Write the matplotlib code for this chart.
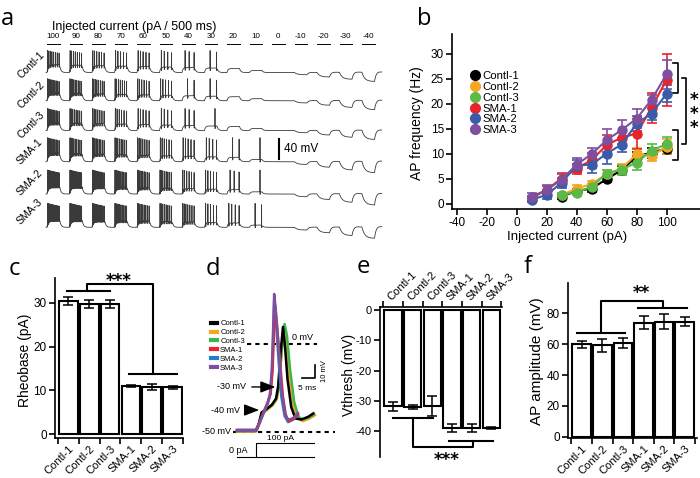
import numpy as np
import matplotlib
matplotlib.use('Agg')
import matplotlib.pyplot as plt
from matplotlib.lines import Line2D

plt.rcParams['font.family'] = ['Liberation Sans', 'DejaVu Sans']
plt.rcParams['axes.unicode_minus'] = False
plt.rcParams['axes.linewidth'] = 1.2

W, H = 700, 478
fig = plt.figure(figsize=(7, 4.78), dpi=100)


def px_axes(l, t, r, b):
    return fig.add_axes([l / W, 1 - b / H, (r - l) / W, (b - t) / H])


def ftext(x, y, s, **kw):
    fig.text(x / W, 1 - y / H, s, **kw)


# ---------------- data ----------------
groups = ['Contl-1', 'Contl-2', 'Contl-3', 'SMA-1', 'SMA-2', 'SMA-3']
colors_b = ['#000000', '#F5A623', '#5BB947', '#E8232A', '#3A5BA9', '#7E4E9F']
colors_d = ['#000000', '#F5A623', '#3DB54A', '#E8232A', '#2A7CC0', '#7E4E9F']

# panel a: step currents and spike counts per sweep
step_currents = [100, 90, 80, 70, 60, 50, 40, 30, 20, 10, 0, -10, -20, -30, -40]
spikes_contl1 = [8, 7, 6, 5, 5, 4, 3, 2, 0, 0, 0, 0, 0, 0, 0]
spikes_contl2 = [10, 9, 8, 7, 6, 5, 2, 2, 0, 0, 0, 0, 0, 0, 0]
spikes_contl3 = [10, 8, 7, 6, 5, 4, 3, 1, 0, 0, 0, 0, 0, 0, 0]
spikes_sma1 = [10, 9, 9, 8, 7, 6, 5, 4, 2, 1, 0, 0, 0, 0, 0]
spikes_sma2 = [14, 12, 11, 10, 9, 8, 6, 5, 3, 1, 0, 0, 0, 0, 0]
spikes_sma3 = [15, 13, 11, 10, 9, 8, 7, 5, 4, 2, 0, 0, 0, 0, 0]

# panel b: AP frequency vs injected current
inj_sma = [10, 20, 30, 40, 50, 60, 70, 80, 90, 100]
inj_contl = [30, 40, 50, 60, 70, 80, 90, 100]
freq_contl1 = [1.4, 2.5, 3.0, 4.9, 6.7, 9.4, 10.2, 11.0]
err_contl1 = [0.4, 0.5, 0.6, 0.6, 0.8, 1.0, 1.0, 1.0]
freq_contl2 = [1.7, 3.0, 3.9, 5.9, 7.0, 9.9, 9.5, 11.4]
err_contl2 = [0.5, 0.8, 0.7, 0.8, 1.0, 1.3, 1.0, 1.5]
freq_contl3 = [1.8, 2.2, 3.4, 6.0, 6.8, 8.2, 10.6, 11.9]
err_contl3 = [0.4, 0.5, 0.6, 0.8, 1.0, 1.5, 1.3, 1.4]
freq_sma1 = [1.0, 2.8, 5.0, 7.0, 8.7, 11.7, 13.2, 14.0, 19.2, 24.8]
err_sma1 = [0.6, 0.8, 1.2, 1.0, 1.5, 2.0, 1.2, 3.0, 3.0, 5.2]
freq_sma2 = [0.8, 1.7, 4.2, 7.6, 7.8, 10.0, 11.8, 16.0, 18.0, 22.0]
err_sma2 = [0.5, 0.8, 1.0, 1.2, 1.6, 2.0, 1.4, 1.5, 1.2, 1.7]
freq_sma3 = [1.4, 2.7, 4.8, 7.8, 9.9, 12.7, 14.7, 17.0, 20.8, 25.9]
err_sma3 = [0.8, 1.1, 1.2, 1.4, 1.3, 2.3, 2.0, 1.9, 1.0, 2.9]

# panel c: rheobase
rheobase = [30.3, 29.7, 29.7, 11.0, 10.7, 10.7]
rheobase_err = [0.9, 1.0, 1.0, 0.3, 0.7, 0.3]

# panel d: averaged AP waveforms (time ms, membrane mV)
wf_t_contl1 = [-7.1, 0, 1.0, 2.1, 4, 6, 7.5, 8.3, 9.2, 10.1, 10.8, 11.8, 13.2, 14.8, 17, 19.5, 21.5]
wf_v_contl1 = [-49.5, -49.5, -46, -39, -37, -34.5, -31, -24, -5, 9.9, 0, -20, -36, -42.5, -43, -41.5, -39.5]
wf_t_contl2 = [-7.1, 0, 1.1, 2.3, 4.2, 6.2, 7.8, 8.6, 9.5, 10.4, 11.1, 12.2, 13.6, 15.3, 17.5, 20, 22.1]
wf_v_contl2 = [-50, -50, -46.5, -40, -37.5, -35, -31.5, -25, -6, 10.5, 2, -18, -34, -42, -44, -42.5, -40.5]
wf_t_contl3 = [-7.1, 0, 1.0, 2.2, 4.1, 6.1, 7.7, 8.5, 9.6, 10.7, 11.6, 12.8, 14.3, 15.9, 17.5, 19.5, 21.5]
wf_v_contl3 = [-49.5, -49.5, -45.5, -39, -37, -34.5, -31, -24, -4, 11.6, 5, -15, -33, -41.5, -43, -42, -40.5]
wf_t_sma1 = [-7.1, 0, 1.5, 3.0, 4.5, 5.5, 6.2, 6.7, 7.1, 7.8, 9.0, 10.1, 11.2, 12.4, 14.2, 15.7]
wf_v_sma1 = [-49, -49, -44, -38, -33, -28, -15, 5, 22.5, 12, -10, -30, -41, -44, -42.5, -40]
wf_t_sma2 = [-7.1, 0, 1.5, 3.0, 4.4, 5.3, 6.0, 6.5, 6.85, 7.4, 8.4, 9.5, 10.7, 12.0, 14.0, 15.7]
wf_v_sma2 = [-49.5, -49.5, -44.5, -39, -34, -29, -16, 5, 26.5, 15, -8, -30, -41, -44.5, -43, -40.5]
wf_t_sma3 = [-7.1, 0, 1.5, 3.0, 4.3, 5.2, 5.9, 6.4, 6.8, 7.4, 8.5, 9.6, 10.8, 12.0, 13.9, 15.7]
wf_v_sma3 = [-49, -49, -44, -38.5, -33.5, -28.5, -15, 8, 28.8, 20, -3, -26, -39, -43.3, -42.2, -39.3]

# panel e: threshold voltage
vthresh = [-31.7, -31.9, -31.7, -39.0, -39.0, -39.0]
vthresh_err = [1.5, 0.7, 3.3, 1.4, 1.4, 0.3]

# panel f: AP amplitude
ap_amp = [60.0, 59.2, 60.9, 73.9, 74.5, 74.7]
ap_amp_err = [2.4, 4.2, 3.3, 4.2, 4.8, 3.2]

STAR = dict(family='DejaVu Sans', fontweight='bold', fontsize=12, ha='center', va='baseline')
LAB = dict(fontfamily='Open Sans', fontsize=17, va='baseline')

# ---------------- panel a ----------------
ax_a = px_axes(40, 20, 392, 245)
ax_a.set_xlim(-280, 13800)
ax_a.set_ylim(-490, -40)
ax_a.axis('off')

SWEEP = 900.0
STEP = 500.0


def sweep(I, n, sma, dt=2.0):
    t = np.arange(0, SWEEP, dt)
    v = np.zeros_like(t)
    on = t < STEP
    off = ~on
    if I > 0:
        plat = min(0.4 * I, 8 + 0.1 * (I - 20)) * (1.1 if sma else 1.0)
        v[on] = plat * (1 - np.exp(-t[on] / 40))
        v[off] = v[on][-1] * np.exp(-(t[off] - STEP) / 50)
    elif I < 0:
        A = abs(I) * (0.55 if sma else 0.45)
        v[on] = -A * (1 - np.exp(-t[on] / 110))
        tt = t[off] - STEP
        v[off] = v[on][-1] * np.exp(-tt / 70) + 0.12 * A * (tt / 120) * np.exp(1 - tt / 120)
    if n > 0:
        lat = 20 + 400 * np.exp(-(n - 1) / 1.5)
        times = [lat] if n == 1 else lat + (485 - lat) * (np.arange(n) / (n - 1)) ** 1.15
        for k, ts in enumerate(times):
            i = int(ts / dt)
            v[i + 1:] -= 6 * np.exp(-(t[i + 1:] - t[i]) / 15)
            v[i] = (48 if sma else 44) - 6 * k / n
    return t, v


spike_rows = [spikes_contl1, spikes_contl2, spikes_contl3, spikes_sma1, spikes_sma2, spikes_sma3]
row_base_px = [72.5, 100.7, 130.5, 161.7, 194, 227.3]
for r, (counts, bpx) in enumerate(zip(spike_rows, row_base_px)):
    base = -2 * bpx
    xs = [np.array([-40.0, 0.0])]
    ys = [np.array([0.0, 0.0])]
    for k, (I, n) in enumerate(zip(step_currents, counts)):
        t, v = sweep(I, n, r >= 3)
        if k == len(step_currents) - 1:
            keep = t <= 790
            t, v = t[keep], v[keep]
        xs.append(t + k * SWEEP)
        ys.append(v)
    ax_a.plot(np.concatenate(xs), np.concatenate(ys) + base, color='#3a3a3a', lw=0.6)

for k, I in enumerate(step_currents):
    ax_a.plot([k * SWEEP, k * SWEEP + STEP], [-88.6, -88.6], color='k', lw=0.7)
    ax_a.text(k * SWEEP + STEP / 2, -81, str(I), ha='center', va='bottom', fontsize=5.8)
ax_a.text(3480, -54, 'Injected current (pA / 500 ms)', ha='center', va='center', fontsize=9)
ax_a.plot([9280, 9280], [-278, -318], color='k', lw=1.5)
ax_a.text(9480, -298, '40 mV', ha='left', va='center', fontsize=8.5)

row_lab_pos = [(31, 65), (31, 95), (31, 125), (30, 152), (30, 183), (30, 212)]
for g, (x, y) in zip(groups, row_lab_pos):
    ftext(x, y, g, rotation=45, ha='center', va='center', fontsize=7.5)
ftext(1, 25, 'a', **LAB)

# ---------------- panel b ----------------
ax_b = px_axes(452.2, 33.5, 699.7, 209)
ax_b.set_xlim(-43, 122)
ax_b.set_ylim(-1.1, 34)
for s in ('top', 'right'):
    ax_b.spines[s].set_visible(False)
ax_b.set_xticks(np.arange(-40, 101, 20))
ax_b.set_yticks(np.arange(0, 31, 5))
ax_b.tick_params(direction='out', length=4, width=1.2, labelsize=8.5, pad=2)
series_b = [(inj_contl, freq_contl1, err_contl1), (inj_contl, freq_contl2, err_contl2),
            (inj_contl, freq_contl3, err_contl3), (inj_sma, freq_sma1, err_sma1),
            (inj_sma, freq_sma2, err_sma2), (inj_sma, freq_sma3, err_sma3)]
for (x, y, e), c in zip(series_b, colors_b):
    ax_b.errorbar(x, y, yerr=e, color=c, marker='o', ms=6.5, lw=1.5, capsize=3.5,
                  elinewidth=1.2, capthick=1.2, clip_on=False)
handles = [Line2D([], [], marker='o', ls='none', color=c, ms=7) for c in colors_b]
ax_b.legend(handles, groups, loc='upper left', bbox_to_anchor=(0.07, 0.785), fontsize=8.2,
            handletextpad=0.15, labelspacing=0.07, frameon=False, borderpad=0, borderaxespad=0,
            handlelength=1.0)
kb = dict(color='k', lw=1.2, clip_on=False)
ax_b.plot([103.9, 107.2, 107.2, 103.9], [28.2, 28.2, 22.2, 22.2], **kb)
ax_b.plot([103.9, 107.2, 107.2, 103.9], [14.7, 14.7, 8.8, 8.8], **kb)
ax_b.plot([109.9, 113.0, 113.0, 109.9], [25.1, 25.1, 11.9, 11.9], **kb)
ax_b.text(118.5, 14.2, '*\n*\n*', clip_on=False, linespacing=0.68, ma='center', **STAR)
ftext(567, 237, 'Injected current (pA)', ha='center', va='center', fontsize=9.5)
ftext(417, 123, 'AP frequency (Hz)', ha='center', va='center', rotation=90, fontsize=10)
ftext(417, 25, 'b', **LAB)

# ---------------- bar panels helper ----------------
pos = np.arange(6)
edges = np.arange(-0.5, 6.0, 1.0)


def bar_panel(ax, vals, errs, width):
    ax.bar(pos, vals, width=width, color='white', edgecolor='black', lw=1.5,
           yerr=errs, capsize=3.5, error_kw=dict(lw=1.1, capthick=1.1, ecolor='black'))
    ax.set_xticks(edges)
    ax.set_xticklabels([])
    ax.set_xticks(pos, minor=True)
    ax.tick_params(axis='x', which='minor', length=0)
    ax.tick_params(axis='both', which='major', direction='out', length=4, width=1.2, labelsize=8.5, pad=2)


kc = dict(color='k', lw=1.5, clip_on=False)

# ---------------- panel c ----------------
ax_c = px_axes(55, 278, 183, 438.3)
ax_c.set_xlim(-0.64, 5.5)
ax_c.set_ylim(-0.9, 35.6)
bar_panel(ax_c, rheobase, rheobase_err, 0.9)
for s in ('top', 'right'):
    ax_c.spines[s].set_visible(False)
ax_c.set_yticks([0, 10, 20, 30])
ax_c.set_xticklabels(groups, minor=True, rotation=45, ha='right', va='top',
                     rotation_mode='anchor', fontsize=8)
ax_c.tick_params(axis='x', which='minor', pad=4)
ax_c.plot([-0.08, 2.0], [32.7, 32.7], **kc)
ax_c.plot([2.92, 5.21], [13.7, 13.7], **kc)
ax_c.plot([0.91, 0.91, 4.06, 4.06], [32.7, 34.2, 34.2, 13.7], **kc)
ax_c.text(2.4, 33.8, '***', clip_on=False, **STAR)
ftext(25, 360, 'Rheobase (pA)', ha='center', va='center', rotation=90, fontsize=10)
ftext(9, 275, 'c', **LAB)

# ---------------- panel d ----------------
ax_d = px_axes(200, 290, 345, 470)
ax_d.set_xlim(-20.97, 33.33)
ax_d.set_ylim(-71.9, 31.06)
ax_d.axis('off')
ax_d.plot([-3.4, 22.8], [0, 0], color='k', lw=1.5, ls=(0, (2, 2)))
ax_d.plot([-8.6, 29.6], [-50, -50], color='k', lw=1.5, ls=(0, (2, 2)))
waves = {'Contl-1': (wf_t_contl1, wf_v_contl1), 'Contl-2': (wf_t_contl2, wf_v_contl2),
         'Contl-3': (wf_t_contl3, wf_v_contl3), 'SMA-1': (wf_t_sma1, wf_v_sma1),
         'SMA-2': (wf_t_sma2, wf_v_sma2), 'SMA-3': (wf_t_sma3, wf_v_sma3)}
for gi in [1, 2, 0, 4, 3, 5]:
    t, v = waves[groups[gi]]
    ax_d.plot(t, v, color=colors_d[gi], lw=1.8, solid_joinstyle='round')
ax_d.plot([-7.1, 21.6], [-64.3, -64.3], color='k', lw=0.8)
ax_d.plot([0, 0, 21.6], [-64.3, -56.6, -56.6], color='k', lw=0.8)
ax_d.plot([17.1, 22.1, 22.1], [-19.5, -19.5, -11.8], color='k', lw=1.2)
ax_d.text(19.1, -23.5, '5 ms', ha='center', va='top', fontsize=6)
ax_d.text(25.6, -15.5, '10 mV', ha='center', va='center', rotation=90, fontsize=5.5)
ax_d.text(17.6, 1.5, '0 mV', ha='center', va='bottom', fontsize=6.5)
ax_d.text(9.0, -56.0, '100 pA', ha='center', va='bottom', fontsize=6)
ax_d.text(-6.7, -61.0, '0 pA', ha='center', va='center', fontsize=6.5)
ax_d.text(-3.7, -24.4, '-30 mV', ha='right', va='center', fontsize=6.5)
ax_d.text(-6.0, -37.6, '-40 mV', ha='right', va='center', fontsize=6.5)
ax_d.text(-9.3, -50, '-50 mV', ha='right', va='center', fontsize=6.5)
ap = dict(arrowstyle='-|>,head_length=0.9,head_width=0.35', color='k', lw=1.0)
ax_d.annotate('', xy=(8.3, -24.4), xytext=(-2.6, -24.4), arrowprops=ap)
ax_d.annotate('', xy=(2.2, -37.6), xytext=(-5.0, -37.6), arrowprops=ap)
dh = [Line2D([], [], color=c, lw=3) for c in colors_d]
ax_d.legend(dh, groups, loc='upper left', bbox_to_anchor=(211 / W, 1 - 320 / H),
            bbox_transform=fig.transFigure, fontsize=5.5, frameon=False, handlelength=0.8,
            handletextpad=0.4, labelspacing=0.2, borderpad=0, borderaxespad=0)
ftext(206, 275, 'd', **LAB)

# ---------------- panel e ----------------
ax_e = px_axes(380, 306.7, 501.7, 456.7)
ax_e.set_xlim(-0.66, 5.52)
ax_e.set_ylim(-48.4, 1.1)
bar_panel(ax_e, vthresh, vthresh_err, 0.88)
for s in ('bottom', 'right'):
    ax_e.spines[s].set_visible(False)
ax_e.xaxis.tick_top()
ax_e.set_yticks([0, -10, -20, -30, -40])
ax_e.tick_params(axis='y', labelsize=8)
ax_e.set_xticklabels(groups, minor=True, rotation=45, ha='left', va='bottom',
                     rotation_mode='anchor', fontsize=8)
ax_e.tick_params(axis='x', which='minor', pad=3)
ax_e.plot([0.0, 2.05], [-35.5, -35.5], **kc)
ax_e.plot([2.86, 5.09], [-43.1, -43.1], **kc)
ax_e.plot([1.03, 1.03, 4.08, 4.08], [-35.5, -45.3, -45.3, -43.1], **kc)
ax_e.text(2.73, -51.3, '***', clip_on=False, **STAR)
ftext(349, 375, 'Vthresh (mV)', ha='center', va='center', rotation=90, fontsize=10)
ftext(357, 273, 'e', **LAB)

# ---------------- panel f ----------------
ax_f = px_axes(568.3, 283.3, 696.7, 438.3)
ax_f.set_xlim(-0.65, 5.58)
ax_f.set_ylim(-1.0, 99.5)
bar_panel(ax_f, ap_amp, ap_amp_err, 0.9)
for s in ('top', 'right'):
    ax_f.spines[s].set_visible(False)
ax_f.set_yticks([0, 20, 40, 60, 80])
ax_f.set_xticklabels(groups, minor=True, rotation=45, ha='right', va='top',
                     rotation_mode='anchor', fontsize=8)
ax_f.tick_params(axis='x', which='minor', pad=4)
ax_f.plot([-0.21, 2.1], [67.4, 67.4], **kc)
ax_f.plot([2.72, 5.1], [83.7, 83.7], **kc)
ax_f.plot([0.94, 0.94, 3.96, 3.96], [67.4, 88.2, 88.2, 83.7], **kc)
ax_f.text(2.91, 90.0, '**', clip_on=False, **STAR)
ftext(537, 361, 'AP amplitude (mV)', ha='center', va='center', rotation=90, fontsize=11)
ftext(524, 273, 'f', **LAB)

fig.savefig('out.png', dpi=100)
